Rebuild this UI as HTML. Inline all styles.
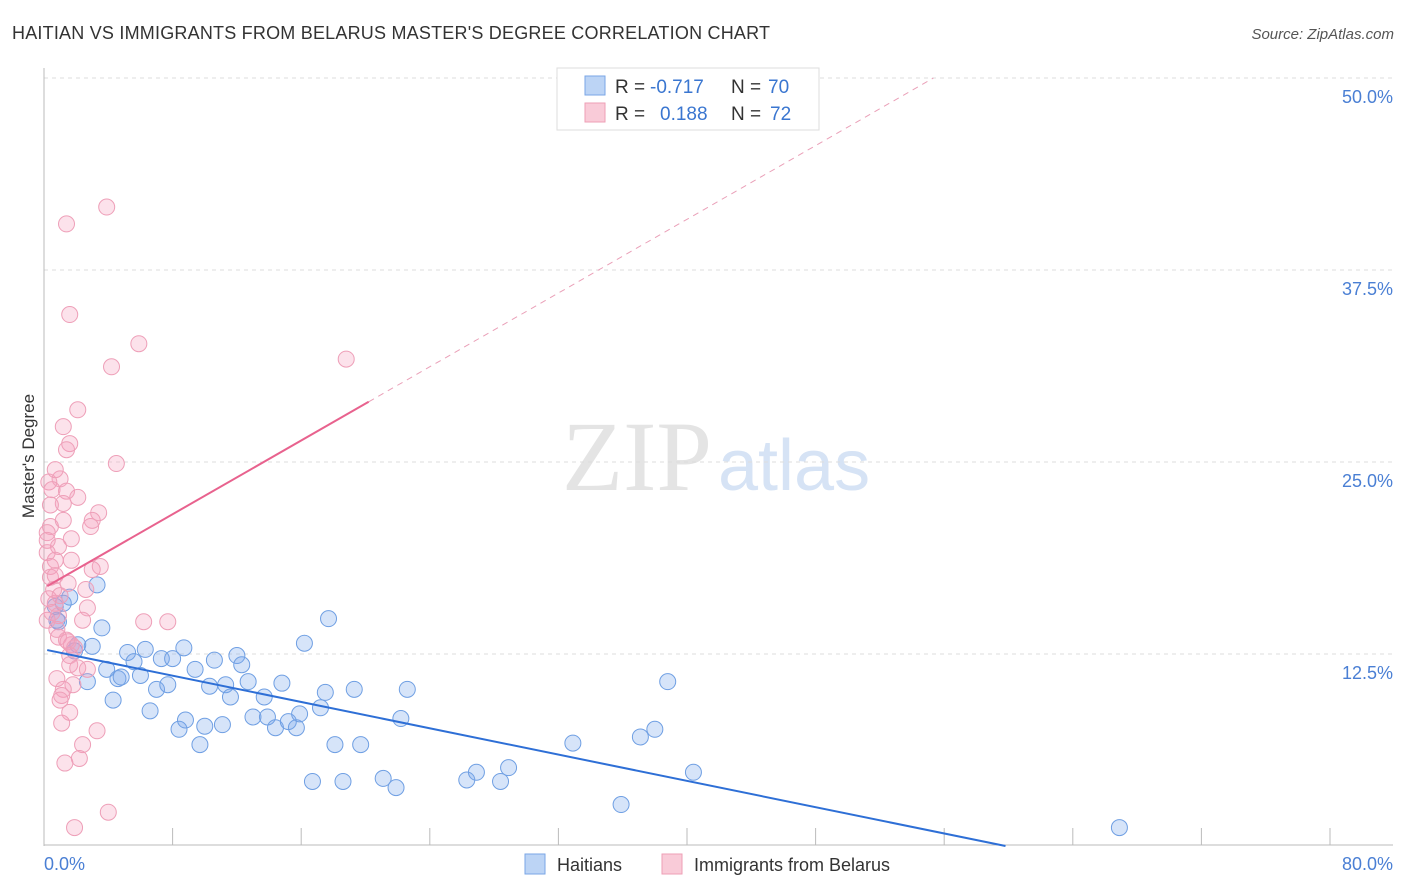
<!DOCTYPE html>
<html><head><meta charset="utf-8"><style>
body{margin:0;background:#fff;font-family:"Liberation Sans",sans-serif}
svg{display:block}
</style></head><body>
<svg id="c" width="1406" height="892">
<text x="12" y="39" font-size="18" fill="#333" textLength="758">HAITIAN VS IMMIGRANTS FROM BELARUS MASTER'S DEGREE CORRELATION CHART</text>
<text x="1394" y="39" font-size="15" fill="#555" text-anchor="end" font-style="italic">Source: ZipAtlas.com</text>
<text x="712" y="490" font-size="100" fill="#e4e4e4" font-family="Liberation Serif,serif" text-anchor="end">ZIP</text>
<text x="718" y="490" font-size="72" fill="#d6e3f5">atlas</text>
<text transform="translate(34,456) rotate(-90)" font-size="17" fill="#333" text-anchor="middle">Master's Degree</text>
<g id="grid"></g><g id="pts"></g><g id="lines"></g>
<text x="44" y="870" font-size="18" fill="#4a7fd4">0.0%</text>
<text x="1393" y="870" font-size="18" fill="#4a7fd4" text-anchor="end">80.0%</text>
<g>
<rect x="525" y="854" width="20" height="20" fill="#bcd4f5" stroke="#7aa6e6"/>
<text x="557" y="871" font-size="18" fill="#333">Haitians</text>
<rect x="662" y="854" width="20" height="20" fill="#f9cbd8" stroke="#ee9fb6"/>
<text x="694" y="871" font-size="18" fill="#333">Immigrants from Belarus</text>
</g>
<g>
<rect x="557" y="68" width="262" height="62" fill="#fff" stroke="#ddd"/>
<rect x="585" y="76" width="20" height="19" fill="#bcd4f5" stroke="#7aa6e6"/>
<rect x="585" y="103" width="20" height="19" fill="#f9cbd8" stroke="#ee9fb6"/>
<text x="615" y="93" font-size="19" fill="#333">R =</text>
<text x="650" y="93" font-size="19" fill="#3a76d0">-0.717</text>
<text x="731" y="93" font-size="19" fill="#333">N =</text>
<text x="768" y="93" font-size="19" fill="#3a76d0">70</text>
<text x="615" y="120" font-size="19" fill="#333">R =</text>
<text x="660" y="120" font-size="19" fill="#3a76d0">0.188</text>
<text x="731" y="120" font-size="19" fill="#333">N =</text>
<text x="770" y="120" font-size="19" fill="#3a76d0">72</text>
</g>
</svg>
<script>
const yTicks=[12.5,25,37.5,50];
const yTickLabels=["12.5%","25.0%","37.5%","50.0%"];
const haitiansX=[3.3,1.6,0.7,1.2,0.8,0.9,3.0,3.6,2.1,1.9,2.7,3.9,4.3,4.6,4.8,5.2,5.6,6.3,6.0,6.6,7.0,7.3,7.7,8.0,8.4,8.7,8.8,9.4,9.7,10.0,10.3,10.6,11.1,11.3,11.6,12.0,12.3,12.7,13.0,13.7,13.9,14.4,14.8,15.2,15.7,15.9,16.2,16.7,17.2,17.5,17.7,18.1,18.6,19.3,19.7,21.1,21.9,22.2,22.6,26.3,26.9,28.4,28.9,32.9,35.9,37.1,38.0,38.8,40.4,66.9];
const haitiansY=[17.0,16.2,15.6,15.8,14.7,14.6,13.0,14.2,13.1,12.7,10.7,11.5,9.5,10.9,11.0,12.6,12.0,12.8,11.1,8.8,10.2,12.2,10.5,12.2,7.6,12.9,8.2,11.5,6.6,7.8,10.4,12.1,7.9,10.5,9.7,12.4,11.8,10.7,8.4,9.7,8.4,7.7,10.6,8.1,7.7,8.6,13.2,4.2,9.0,10.0,14.8,6.6,4.2,10.2,6.6,4.4,3.8,8.3,10.2,4.3,4.8,4.2,5.1,6.7,2.7,7.1,7.6,10.7,4.8,1.2];
const belarusX=[3.9,1.4,1.6,5.9,4.2,18.8,2.1,1.2,1.6,1.4,4.5,1.0,0.3,0.5,1.4,2.1,1.2,3.4,3.0,2.9,0.4,0.2,1.7,0.9,0.2,0.7,0.4,3.5,3.0,0.4,1.5,0.6,2.6,0.3,0.7,2.7,0.9,2.4,6.2,7.7,0.9,1.5,1.7,1.9,1.6,1.6,2.1,2.7,0.8,1.8,1.2,1.1,1.6,1.1,3.3,2.4,2.2,1.3,4.0,1.9,0.2,0.7,1.0,0.5,0.2,0.8,1.4,1.0,1.2,1.7,0.4,0.7];
const belarusY=[41.6,40.5,34.6,32.7,31.2,31.7,28.4,27.3,26.2,25.8,24.9,23.9,23.7,23.2,23.1,22.7,22.3,21.7,21.2,20.8,20.8,20.4,20.0,19.5,19.1,18.6,18.2,18.2,18.0,17.5,17.1,16.7,16.7,16.1,15.8,15.5,15.0,14.7,14.6,14.6,13.6,13.3,13.1,12.9,12.4,11.8,11.6,11.5,10.9,10.5,10.2,9.8,8.7,8.0,7.5,6.6,5.7,5.4,2.2,1.2,19.9,17.6,16.3,15.2,14.7,14.1,13.4,9.5,21.2,18.6,22.2,24.5];
const haitiansTrend=[12.8,-0.214];
const belarusTrend=[16.8,0.6];
const NS="http://www.w3.org/2000/svg";
const X0=44,X1=1330,Y0=846,Y1=78;
const xs=v=>X0+v/80*(X1-X0);
const ys=v=>Y0-v/50*(Y0-Y1);
function mk(tag,attrs,parent){const e=document.createElementNS(NS,tag);for(const k in attrs)e.setAttribute(k,attrs[k]);parent.appendChild(e);return e;}
const grid=document.getElementById('grid');
yTicks.forEach((t,i)=>{
 const l=mk('line',{x1:X0,x2:1393,y1:ys(t),y2:ys(t),stroke:'#ddd','stroke-dasharray':'4,4'},grid);
 
 
 const tx=mk('text',{x:1393,y:ys(t)+25,'font-size':18,fill:'#4a7fd4','text-anchor':'end'},grid);
 tx.textContent=yTickLabels[i];
 
 
});
const ax=mk('line',{x1:X0,x2:X0,y1:68,y2:846,stroke:'#bbb'},grid);


const bx=mk('line',{x1:X0,x2:1393,y1:845,y2:845,stroke:'#bbb'},grid);


for(let i=0;i<=10;i++){
 const t=mk('line',{x1:xs(i*8),x2:xs(i*8),y1:828,y2:845,stroke:'#bbb'},grid);
 
 
}
const pts=document.getElementById('pts');
haitiansX.forEach((x,i)=>{
 const c=mk('circle',{cx:xs(x),cy:ys(haitiansY[i]),r:8,fill:'rgba(120,165,235,0.3)',stroke:'#6f9fe3','stroke-width':1},pts);
 
 
});
belarusX.forEach((x,i)=>{
 const c=mk('circle',{cx:xs(x),cy:ys(belarusY[i]),r:8,fill:'rgba(245,160,190,0.3)',stroke:'#ee9fb8','stroke-width':1},pts);
 
 
});
const lines=document.getElementById('lines');
const hEnd=-haitiansTrend[0]/haitiansTrend[1];
const hl=mk('line',{x1:xs(0.2),y1:ys(haitiansTrend[0]+haitiansTrend[1]*0.2),x2:xs(hEnd),y2:ys(0),stroke:'#2e6fd6','stroke-width':2},lines);


const bMid=20.2,bEnd=(50-belarusTrend[0])/belarusTrend[1];
const bl=mk('line',{x1:xs(0.2),y1:ys(belarusTrend[0]+belarusTrend[1]*0.2),x2:xs(bMid),y2:ys(belarusTrend[0]+belarusTrend[1]*bMid),stroke:'#e8628e','stroke-width':2},lines);


const bd=mk('line',{x1:xs(bMid),y1:ys(belarusTrend[0]+belarusTrend[1]*bMid),x2:xs(bEnd),y2:ys(50),stroke:'#eaa0b8','stroke-width':1,'stroke-dasharray':'6,5'},lines);


</script>
</body></html>
